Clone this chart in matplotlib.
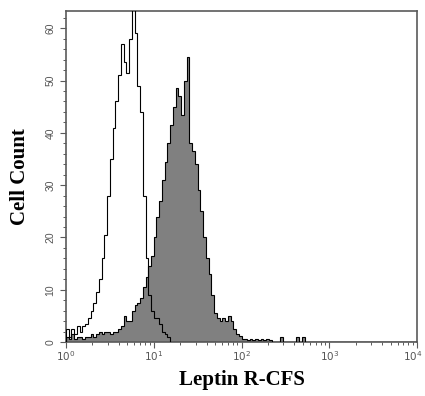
import numpy as np
import matplotlib
matplotlib.use("Agg")
import matplotlib.pyplot as plt
import matplotlib.transforms as mtransforms
from matplotlib.ticker import FixedLocator, LogLocator, NullFormatter

# histogram channels: 128 log-spaced channels over 4 decades (10^0 .. 10^4)
n_channels = 128
decades = 4

# control (open, outline only) histogram counts per channel
control_counts = [
    2.5, 1, 2.5, 1.5, 3, 2, 3, 3.5, 4.5, 6,
    7.5, 9.5, 12, 16, 20.5, 28, 35, 41, 46, 51,
    57, 53.5, 51.5, 58, 63.5, 59, 49, 44, 28, 16,
    9, 6, 4.5, 4.5, 3.5, 2, 1.5, 1, 0,
]

# Leptin R-CFS stained (filled) histogram counts per channel
stained_counts = [
    1, 0.5, 1.5, 0.5, 1, 1, 0.5, 1, 1, 1.5,
    1, 1.5, 2, 1.5, 2, 2, 1.5, 2, 2, 2.5,
    3, 5, 4, 4, 6, 7, 7.5, 8.5, 10.5, 12.5,
    14.5, 16.5, 20, 24, 27, 31, 34.5, 38, 41.5, 45,
    48.5, 47, 43.5, 50, 54.5, 38, 36.5, 34, 29, 25,
    20, 16, 13, 9, 5.5, 4.5, 4, 4.5, 4, 5,
    4, 2.5, 1.5, 1.2, 0.6, 0.5, 0.3, 0.6, 0.4, 0.6,
    0.3, 0.6, 0.4, 0.6, 0.3, 0, 0, 0, 1, 0,
    0, 0, 0, 0, 1, 0, 1, 0,
]

x_label = "Leptin R-CFS"
y_label = "Cell Count"
y_ticks = [0, 10, 20, 30, 40, 50, 60]
x_ticks = [1, 10, 100, 1000, 10000]
x_ticklabels = [r"$10^0$", r"$10^1$", r"$10^2$", r"$10^3$", r"$10^4$"]

def pad(v):
    a = np.zeros(n_channels)
    a[:len(v)] = v
    return a

edges = 10 ** (np.arange(n_channels + 1) * decades / n_channels)

fig = plt.figure(figsize=(4.25, 3.96), dpi=100)
ax = fig.add_axes([66 / 425, 54 / 396, 351 / 425, 331 / 396])

stained = pad(stained_counts)
control = pad(control_counts)

ax.stairs(stained, edges, fill=True, color="#808080", zorder=2)
ax.stairs(stained, edges, color="black", linewidth=0.8, zorder=3)
ax.stairs(control, edges, color="black", linewidth=0.8, zorder=4)

ax.set_xscale("log")
ax.set_xlim(1, 10000)
ax.set_ylim(0, 63.3)

frame_color = "#5a5a5a"
for s in ax.spines.values():
    s.set_color(frame_color)
    s.set_linewidth(1.2)

ax.xaxis.set_major_locator(FixedLocator(x_ticks))
ax.set_xticklabels(x_ticklabels)
ax.xaxis.set_minor_locator(LogLocator(base=10, subs=np.arange(2, 10)))
ax.xaxis.set_minor_formatter(NullFormatter())
ax.yaxis.set_major_locator(FixedLocator(y_ticks))
ax.yaxis.set_minor_locator(FixedLocator(np.arange(0, 64, 2)))

ax.tick_params(axis="both", which="major", direction="out", length=4,
               width=0.8, color=frame_color, labelcolor="#555555",
               labelsize=7.5)
ax.tick_params(axis="both", which="minor", direction="out", length=2.5,
               width=0.7, color=frame_color)
ax.tick_params(axis="x", which="major", pad=1)
xt_labels = ax.get_xticklabels()
for lbl in xt_labels:
    lbl.set_fontfamily("Liberation Sans")
# keep the last decade label inside the figure
xt_labels[-1].set_transform(xt_labels[-1].get_transform() +
                            mtransforms.ScaledTranslation(-4 / 100, 0, fig.dpi_scale_trans))
for lbl in ax.get_yticklabels():
    lbl.set_rotation(90)
    lbl.set_va("center")
    lbl.set_fontfamily("Liberation Sans")

ax.set_xlabel(x_label, fontfamily="Liberation Serif", fontweight="bold",
              fontsize=15, labelpad=5)
ax.set_ylabel(y_label, fontfamily="Liberation Serif", fontweight="bold",
              fontsize=15, labelpad=11)

fig.savefig("out.png", dpi=100)
